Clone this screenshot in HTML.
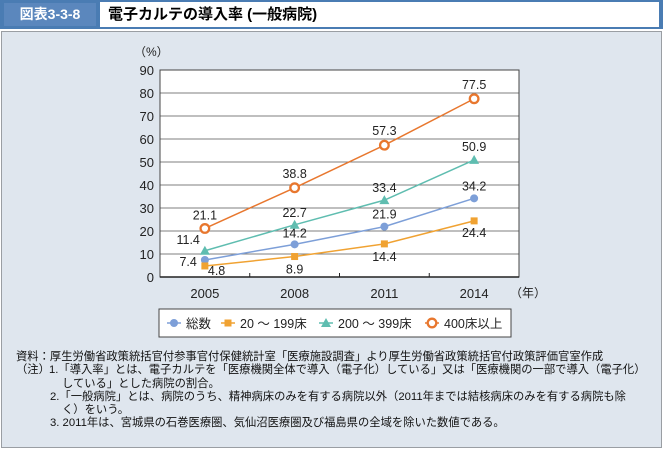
<!DOCTYPE html>
<html><head><meta charset="utf-8"><style>
body{margin:0;width:663px;height:449px;background:#fff;font-family:"Liberation Sans","Noto Sans CJK JP",sans-serif;overflow:hidden;position:relative}
.hdr{position:absolute;left:0;top:0;width:663px;height:29px;background:#4a7cb3}
.lbl{position:absolute;left:4px;top:3px;width:92px;height:23px;color:#fff;font-weight:bold;font-size:14px;line-height:23px;text-align:center;background:#5b87bd}
.ttl{position:absolute;left:100px;top:2px;width:559px;height:25px;background:#fff;font-weight:bold;font-size:15px;line-height:25px;padding-left:8px;box-sizing:border-box}
.panel{position:absolute;left:1px;top:31px;width:659px;height:415px;background:#dfe6ee;border:1px solid #9a9ea3}
.notes{position:absolute;left:16px;top:351px;font-size:11.3px;line-height:13.3px;color:#111;white-space:nowrap}
.notes div{position:relative}
</style></head><body>
<div class="hdr">
<div class="lbl">図表3-3-8</div>
<div class="ttl">電子カルテの導入率 (一般病院)</div>
</div>
<div class="panel"></div>
<svg id="c" width="663" height="449" style="position:absolute;left:0;top:0"></svg>
<div class="notes">
<div>資料：厚生労働省政策統括官付参事官付保健統計室「医療施設調査」より厚生労働省政策統括官付政策評価官室作成</div>
<div>（注）<span style="position:absolute;left:33px">1.「導入率」とは、電子カルテを「医療機関全体で導入（電子化）している」又は「医療機関の一部で導入（電子化）</span></div>
<div style="padding-left:46px">している」とした病院の割合。</div>
<div style="padding-left:34px">2.「一般病院」とは、病院のうち、精神病床のみを有する病院以外（2011年までは結核病床のみを有する病院も除</div>
<div style="padding-left:46px">く）をいう。</div>
<div style="padding-left:34px">3. 2011年は、宮城県の石巻医療圏、気仙沼医療圏及び福島県の全域を除いた数値である。</div>
</div>
<script>
const categories=["2005","2008","2011","2014"];
const total=[7.4,14.2,21.9,34.2];
const small=[4.8,8.9,14.4,24.4];
const mid=[11.4,22.7,33.4,50.9];
const large=[21.1,38.8,57.3,77.5];
const yTicks=[0,10,20,30,40,50,60,70,80,90];
const NS="http://www.w3.org/2000/svg";
const svg=document.getElementById('c');
const L=160,R=519,T=70,B=277,ymax=90;
const bw=(R-L)/categories.length;
const x=i=>L+bw*(i+0.5);
const y=v=>B-(v/ymax)*(B-T);
function mk(t,a,p){const e=document.createElementNS(NS,t);for(const k in a)e.setAttribute(k,a[k]);(p||svg).appendChild(e);return e;}
const bg=mk('rect',{x:L,y:T,width:R-L,height:B-T,fill:'#fff'});


yTicks.forEach(v=>{
 if(v>0){const g=mk('line',{x1:L,x2:R,y1:y(v),y2:y(v),stroke:'#555','stroke-width':0.8});
 
 }
 const t=mk('text',{x:154,y:y(v)+5,'text-anchor':'end','font-size':13,fill:'#222'});t.textContent=v;
 
 
});
mk('rect',{x:L,y:T,width:R-L,height:B-T,fill:'none',stroke:'#444','stroke-width':1});
mk('line',{x1:L,x2:R,y1:B,y2:B,stroke:'#222','stroke-width':1.5});
for(let i=1;i<categories.length;i++)mk('line',{x1:L+bw*i,x2:L+bw*i,y1:B,y2:B-4,stroke:'#222'});
categories.forEach((c,i)=>{const t=mk('text',{x:x(i),y:298,'text-anchor':'middle','font-size':13,fill:'#222'});t.textContent=c;
 
 });
let u=mk('text',{x:134,y:56,'font-size':12,fill:'#222'});u.textContent='（%）';


u=mk('text',{x:510,y:297,'font-size':12,fill:'#222'});u.textContent='（年）';


const series=[
 {name:'series-total',d:total,c:'#7d9fd8',m:'circle',lab:[[-8,6],[0,-7],[0,-8],[0,-8]],anch:['end','middle','middle','middle']},
 {name:'series-20-199',d:small,c:'#f0a232',m:'square',lab:[[3,9],[0,17],[0,17],[0,16]],anch:['start','middle','middle','middle']},
 {name:'series-200-399',d:mid,c:'#5fbdb0',m:'tri',lab:[[-5,-7],[0,-8],[0,-8],[0,-9]],anch:['end','middle','middle','middle']},
 {name:'series-400plus',d:large,c:'#e8772e',m:'ring',lab:[[0,-9],[0,-10],[0,-10],[0,-10]],anch:['middle','middle','middle','middle']}
];
function marker(s,cx,cy,p){
 if(s.m==='circle')return mk('circle',{cx,cy,r:4,fill:s.c},p);
 if(s.m==='square')return mk('rect',{x:cx-3.5,y:cy-3.5,width:7,height:7,fill:s.c},p);
 if(s.m==='tri')return mk('polygon',{points:`${cx},${cy-5} ${cx+5},${cy+4} ${cx-5},${cy+4}`,fill:s.c},p);
 return mk('circle',{cx,cy,r:4.3,fill:'#fff',stroke:s.c,'stroke-width':2.3},p);
}
series.forEach(s=>{
 const g=mk('g',{});
 
 
 const line=mk('polyline',{points:s.d.map((v,i)=>x(i)+','+y(v)).join(' '),fill:'none',stroke:s.c,'stroke-width':1.5},g);
 
 
 s.d.forEach((v,i)=>{
  const m=marker(s,x(i),y(v),g);
  
  
  const t=mk('text',{x:x(i)+s.lab[i][0],y:y(v)+s.lab[i][1],'text-anchor':s.anch[i],'font-size':12.5,fill:'#222'},g);
  t.textContent=v.toFixed(1);
  
  
 });
});
const lg=mk('g',{});


mk('rect',{x:159,y:309,width:352,height:28,fill:'#fff',stroke:'#444','stroke-width':1},lg);
const ln=['総数','20 ～ 199床','200 ～ 399床','400床以上'];
const lx=[174,228,326,432];
series.forEach((s,i)=>{
 const e=mk('g',{},lg);
 
 
 mk('line',{x1:lx[i]-7,x2:lx[i]+7,y1:323,y2:323,stroke:s.c,'stroke-width':1.5},e);
 marker(s,lx[i],323,e);
 const t=mk('text',{x:lx[i]+12,y:328,'font-size':12.5,fill:'#222'},e);t.textContent=ln[i];
});
</script>
</body></html>
